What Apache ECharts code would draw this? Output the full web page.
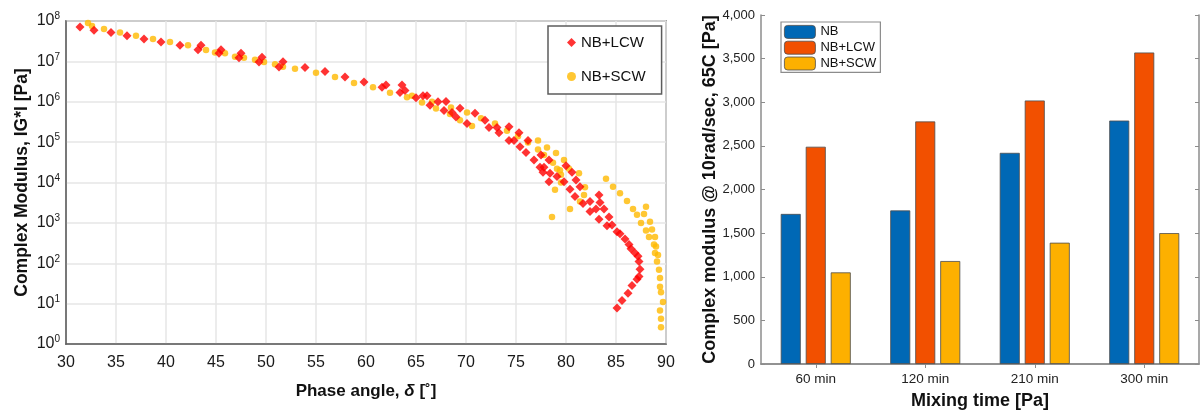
<!DOCTYPE html>
<html>
<head>
<meta charset="utf-8">
<script src="https://cdn.jsdelivr.net/npm/echarts@6/dist/echarts.min.js"></script>
<style>
  html, body { margin: 0; padding: 0; background: #fff; }
  #wrap { position: relative; width: 1201px; height: 410px; }
  #master { position: absolute; left: 0; top: 0; width: 680px; height: 410px; }
  #mixing { position: absolute; left: 680px; top: 0; width: 521px; height: 410px; }
</style>
</head>
<body>
<div id="wrap"><div id="master"></div><div id="mixing"></div></div>
<script>
// Black-space (master curve) data: [phase angle in degrees, |G*| in Pa]
const lcwPoints = [
  [31.4, 7.1e7], [32.8, 5.9e7], [34.5, 5.2e7], [36.1, 4.3e7], [37.8, 3.6e7],
  [39.5, 3.0e7], [41.4, 2.5e7], [43.2, 1.95e7], [43.5, 2.5e7], [45.3, 1.6e7],
  [45.5, 1.95e7], [47.3, 1.23e7], [47.5, 1.6e7], [49.3, 9.6e6], [49.6, 1.26e7],
  [51.3, 7.3e6], [51.7, 9.8e6], [53.9, 7.1e6], [55.9, 5.6e6], [57.9, 4.1e6],
  [59.8, 3.1e6], [61.6, 2.3e6], [62.0, 2.6e6], [63.6, 2.6e6], [63.4, 1.7e6],
  [63.9, 1.9e6], [65.0, 1.26e6], [65.7, 1.4e6], [66.1, 1.4e6], [66.4, 8.2e5],
  [67.2, 1.0e6], [68.0, 1.02e6], [67.8, 6.1e5], [68.6, 5.4e5], [69.4, 6.9e5],
  [69.0, 4.2e5], [70.1, 2.9e5], [70.9, 5.2e5], [71.9, 3.5e5], [72.3, 2.3e5],
  [73.1, 2.3e5], [73.3, 1.7e5], [74.3, 2.4e5], [74.3, 1.1e5], [74.8, 1.1e5],
  [75.3, 1.7e5], [75.4, 7.7e4], [76.2, 1.1e5], [76.0, 5.5e4], [76.8, 3.6e4],
  [77.5, 4.8e4], [77.4, 2.4e4], [78.3, 3.6e4], [77.7, 1.8e4], [78.4, 1.7e4],
  [77.8, 2.4e4], [78.3, 1.05e4], [79.1, 1.4e4], [79.8, 1.05e4], [80.0, 2.6e4],
  [80.6, 1.8e4], [81.0, 1.15e4], [80.4, 6.8e3], [81.4, 7.9e3], [80.9, 4.5e3],
  [81.7, 3.0e3], [82.4, 3.4e3], [83.3, 4.9e3], [83.4, 3.2e3], [83.0, 2.2e3],
  [82.4, 1.9e3], [83.8, 2.2e3], [83.3, 1.23e3], [84.3, 1.4e3], [84.1, 850],
  [84.6, 890], [85.1, 600], [85.4, 540], [85.9, 400], [86.3, 290],
  [86.5, 230], [86.9, 180], [87.2, 150], [87.3, 110], [87.4, 71],
  [87.3, 47], [87.1, 40], [86.6, 28], [86.2, 18], [85.6, 12], [85.1, 7.8]
];
const scwPoints = [
  [32.2, 8.9e7], [32.6, 7.5e7], [33.8, 6.3e7], [35.4, 5.2e7], [37.0, 4.3e7],
  [38.7, 3.6e7], [40.4, 3.0e7], [42.2, 2.5e7], [44.0, 1.9e7], [44.9, 1.67e7],
  [45.9, 1.6e7], [46.9, 1.3e7], [47.8, 1.23e7], [48.9, 1.1e7], [49.8, 9.7e6],
  [50.9, 8.5e6], [51.7, 7.4e6], [52.9, 6.6e6], [55.0, 5.2e6], [56.9, 4.1e6],
  [58.8, 2.9e6], [60.7, 2.3e6], [62.4, 1.66e6], [64.1, 1.3e6], [64.6, 1.4e6],
  [65.6, 9.6e5], [66.6, 1.0e6], [67.0, 6.8e5], [68.4, 5.0e5], [68.5, 7.2e5],
  [69.4, 3.5e5], [70.1, 5.4e5], [70.6, 2.5e5], [71.5, 3.9e5], [72.9, 2.9e5],
  [74.1, 1.9e5], [75.2, 1.4e5], [76.2, 9.8e4], [77.2, 1.1e5], [77.2, 6.6e4],
  [78.1, 7.4e4], [77.8, 4.8e4], [78.7, 3.1e4], [79.0, 5.4e4], [79.8, 3.6e4],
  [79.1, 2.2e4], [79.4, 2.0e4], [79.5, 1.55e4], [80.3, 2.2e4], [81.3, 1.7e4],
  [79.5, 1.0e4], [81.9, 7.6e3], [78.9, 6.6e3], [81.8, 4.9e3], [81.4, 3.4e3],
  [80.4, 2.2e3], [78.6, 1.4e3], [84.0, 1.23e4], [84.7, 7.9e3], [85.4, 5.4e3],
  [86.1, 3.5e3], [86.7, 2.2e3], [87.1, 1.6e3], [88.0, 2.5e3], [87.8, 1.66e3],
  [87.5, 1.0e3], [88.4, 1.07e3], [88.0, 650], [88.6, 690], [88.3, 450],
  [88.9, 450], [88.8, 290], [89.0, 260], [88.9, 180], [89.2, 160],
  [89.1, 110], [89.3, 69], [89.4, 43], [89.4, 26], [89.5, 19],
  [89.7, 11], [89.4, 6.8], [89.5, 4.2], [89.5, 2.6]
];
const phaseTicks = { min: 30, max: 90, step: 5 };
const modulusRange = { min: 1, max: 1e8 };

// Complex modulus at 10 rad/s, 65 C, by mixing time
const mixTimes = ['60 min', '120 min', '210 min', '300 min'];
const nbValues = [1720, 1760, 2420, 2790];
const lcwValues = [2490, 2780, 3020, 3570];
const scwValues = [1050, 1180, 1390, 1500];

const FONT = '"Liberation Sans", Arial, Helvetica, sans-serif';

// ---- Left: black-space diagram ----
const master = echarts.init(document.getElementById('master'), null, { renderer: 'canvas' });
const frame = '#5c5c5c';
const gridLine = '#e6e6e6';
master.setOption({
  animation: false,
  textStyle: { fontFamily: FONT },
  grid: {
    left: 66, top: 21, width: 600, height: 323, outerBoundsMode: 'none',
    show: true, borderColor: frame, borderWidth: 1.5, backgroundColor: 'transparent'
  },
  legend: {
    left: 548, top: 26, orient: 'vertical',
    padding: [9, 16, 10, 19], itemGap: 19, itemWidth: 9, itemHeight: 9,
    borderColor: frame, borderWidth: 1.5, backgroundColor: '#fff',
    textStyle: { fontSize: 15, color: '#111', fontFamily: FONT },
    data: [{ name: 'NB+LCW', icon: 'diamond' }, { name: 'NB+SCW', icon: 'circle' }]
  },
  xAxis: {
    type: 'value', min: phaseTicks.min, max: phaseTicks.max, interval: phaseTicks.step,
    axisLine: { show: true, lineStyle: { color: frame, width: 1.5 } },
    axisTick: { show: false },
    splitLine: { show: true, lineStyle: { color: gridLine, width: 1.5 } },
    axisLabel: { fontSize: 16, color: '#1a1a1a', margin: 11, fontFamily: FONT },
    name: 'Phase angle, {i|δ} [˚]',
    nameLocation: 'middle', nameGap: 39,
    nameTextStyle: {
      fontSize: 17, fontWeight: 'bold', color: '#111', fontFamily: FONT,
      rich: { i: { fontSize: 17, fontStyle: 'italic', fontWeight: 'bold', fontFamily: FONT, color: '#111' } }
    }
  },
  yAxis: {
    type: 'log', logBase: 10, min: modulusRange.min, max: modulusRange.max, interval: 1,
    axisLine: { show: true, lineStyle: { color: frame, width: 1.5 } },
    axisTick: { show: false },
    splitLine: { show: true, lineStyle: { color: gridLine, width: 1.5 } },
    axisLabel: {
      margin: 6, color: '#1a1a1a',
      formatter: v => '{b|10}{s|' + Math.round(Math.log10(v)) + '}',
      rich: {
        b: { fontSize: 16, color: '#1a1a1a', fontFamily: FONT },
        s: { fontSize: 10, color: '#1a1a1a', fontFamily: FONT, padding: [0, 0, 9, 0] }
      }
    },
    name: 'Complex Modulus, IG*I [Pa]',
    nameLocation: 'middle', nameGap: 35, nameRotate: 90, nameMoveOverlap: false,
    nameTextStyle: { fontSize: 17.5, fontWeight: 'bold', color: '#111', fontFamily: FONT }
  },
  series: [
    {
      name: 'NB+LCW', type: 'scatter', symbol: 'diamond', symbolSize: 9,
      itemStyle: { color: '#ff0000' }, data: lcwPoints, z: 3
    },
    {
      name: 'NB+SCW', type: 'scatter', symbol: 'circle', symbolSize: 6.5,
      itemStyle: { color: '#ffb900' }, data: scwPoints, z: 2
    }
  ]
});

// ---- Right: grouped bars by mixing time ----
const mixing = echarts.init(document.getElementById('mixing'), null, { renderer: 'canvas' });
const boxLine = '#8c8c8c';
const barEdge = '#4d4d4d';
mixing.setOption({
  animation: false,
  textStyle: { fontFamily: FONT },
  grid: { left: 81, top: 15, width: 438, height: 349, outerBoundsMode: 'none' },
  legend: {
    left: 101, top: 22, orient: 'vertical',
    padding: [3, 4, 2, 3], itemGap: 2, itemWidth: 31, itemHeight: 13,
    borderColor: boxLine, borderWidth: 1.2, backgroundColor: '#fff',
    itemStyle: { borderColor: barEdge, borderWidth: 0.8 },
    textStyle: { fontSize: 13, color: '#111', fontFamily: FONT },
    data: ['NB', 'NB+LCW', 'NB+SCW']
  },
  xAxis: [
    {
      type: 'category', data: mixTimes, position: 'bottom',
      axisLine: { show: true, lineStyle: { color: boxLine, width: 1.5 } },
      axisTick: { show: true, inside: true, alignWithLabel: true, length: 4, lineStyle: { color: boxLine } },
      axisLabel: { fontSize: 13.5, color: '#222', margin: 8, fontFamily: FONT },
      name: 'Mixing time [Pa]', nameLocation: 'middle', nameGap: 28,
      nameTextStyle: { fontSize: 18, fontWeight: 'bold', color: '#111', fontFamily: FONT }
    },
    {
      type: 'category', data: mixTimes, position: 'top',
      axisLine: { show: true, lineStyle: { color: boxLine, width: 1.5 } },
      axisTick: { show: true, inside: true, alignWithLabel: true, length: 4, lineStyle: { color: boxLine } },
      axisLabel: { show: false }
    }
  ],
  yAxis: [
    {
      type: 'value', min: 0, max: 4000, interval: 500, position: 'left',
      axisLine: { show: true, lineStyle: { color: boxLine, width: 1.5 } },
      axisTick: { show: true, inside: true, length: 4, lineStyle: { color: boxLine } },
      splitLine: { show: false },
      axisLabel: {
        fontSize: 13, color: '#222', margin: 6, fontFamily: FONT,
        formatter: v => v.toLocaleString('en-US')
      },
      name: 'Complex modulus @ 10rad/sec, 65C [Pa]',
      nameLocation: 'middle', nameGap: 42, nameRotate: 90, nameMoveOverlap: false,
      nameTextStyle: { fontSize: 18, fontWeight: 'bold', color: '#111', fontFamily: FONT }
    },
    {
      type: 'value', min: 0, max: 4000, interval: 500, position: 'right',
      axisLine: { show: true, lineStyle: { color: boxLine, width: 1.5 } },
      axisTick: { show: true, inside: true, length: 4, lineStyle: { color: boxLine } },
      splitLine: { show: false },
      axisLabel: { show: false }
    }
  ],
  series: [
    {
      name: 'NB', type: 'bar', data: nbValues, barWidth: 20, barGap: '25%',
      itemStyle: { color: '#0068b5', borderColor: barEdge, borderWidth: 0.8 }
    },
    {
      name: 'NB+LCW', type: 'bar', data: lcwValues, barWidth: 20, barGap: '25%',
      itemStyle: { color: '#f25000', borderColor: barEdge, borderWidth: 0.8 }
    },
    {
      name: 'NB+SCW', type: 'bar', data: scwValues, barWidth: 20, barGap: '25%',
      itemStyle: { color: '#fdb000', borderColor: barEdge, borderWidth: 0.8 }
    }
  ]
});
</script>
</body>
</html>
